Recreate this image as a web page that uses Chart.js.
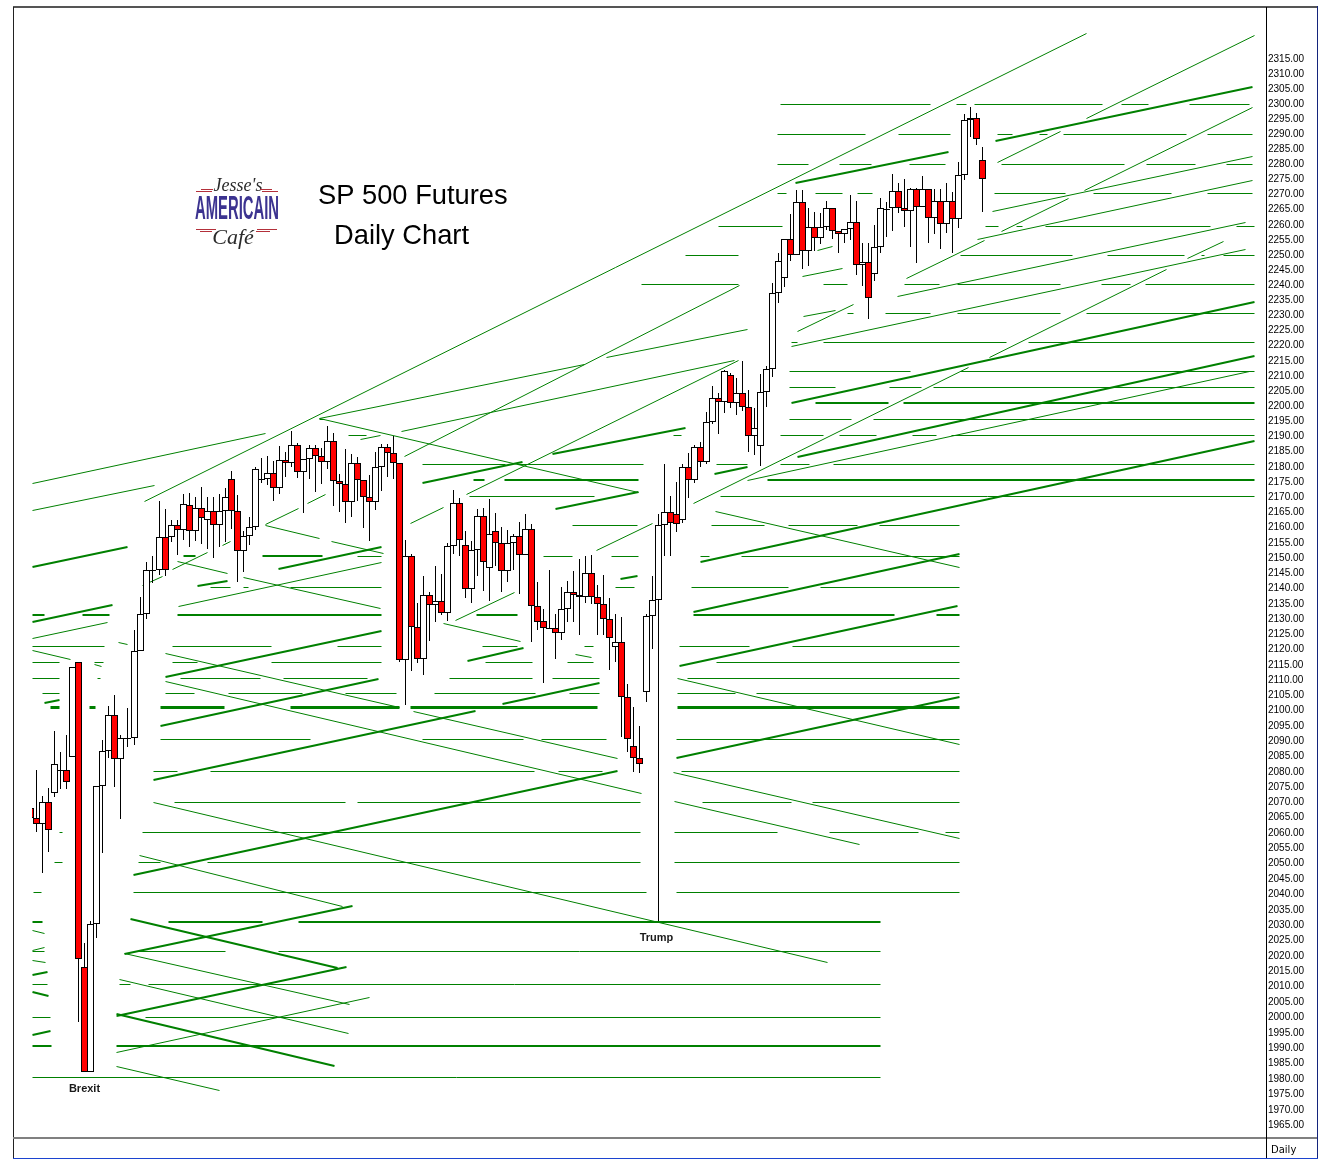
<!DOCTYPE html>
<html>
<head>
<meta charset="utf-8">
<title>SP 500 Futures Daily Chart</title>
<script src="https://cdn.jsdelivr.net/npm/chart.js@4/dist/chart.umd.js"></script>
<style>
  html, body { margin: 0; padding: 0; background: #fff; }
  canvas { display: block; }
</style>
</head>
<body>
<canvas id="chart" width="1329" height="1169"></canvas>
<script>
// daily candles, first session is cut off by the left edge of the plot
const opens = [
  2067.4,2064.2,2062.2,2069.4,2072.3,2079.5,2079.8,2084,2115.1,2015.7,
  1981.6,2029.7,2074.6,2086,2097.7,2083.4,2089.9,2090.2,2118.7,2130.9,
  2145,2145.3,2156.2,2156.2,2160.1,2158.5,2166.7,2158.2,2165.7,2161.8,
  2164.8,2160.1,2164.8,2175.3,2164.8,2151.6,2156.5,2159.5,2175,2175.3,
  2177.3,2172.3,2181.6,2180.6,2186.5,2177.6,2181.9,2185.5,2182.9,2180.9,
  2187.8,2174.6,2173.6,2167.7,2180.6,2175,2169.4,2167.7,2179.2,2185.8,
  2183.9,2180.6,2115.8,2149.9,2126.6,2116.1,2137.1,2133.8,2135.2,2131.2,
  2153.2,2167.4,2153.6,2139.1,2151.9,2163.1,2146,2158.2,2154.2,2145,
  2154.2,2156.5,2150.3,2158.8,2133.5,2128.6,2126,2126.3,2124.6,2132.5,
  2138.1,2137.1,2136.5,2144.3,2136.5,2134.2,2129.2,2120,2121.7,2103.6,
  2087.6,2083.7,2105.3,2130.2,2135.5,2160.1,2164.4,2163.8,2161.8,2179.2,
  2175,2185.8,2180.9,2194.1,2202,2200.7,2209.6,2200.3,2203.6,2199,
  2189.5,2186.2,2204,2211.6,2236.7,2241.6,2254.5,2249.2,2266.8,2250.6,
  2258.5,2254.9,2258.5,2264.8,2257.2,2256.2,2257.9,2260.2,2245.9,2246.9,
  2243,2251.9,2264.2,2264.8,2270.5,2264.8,2263.8,2271.1,2265.2,2271.1,
  2261.5,2267.2,2259.5,2267.2,2261.2,2275.8,2294,2294.7,2280.8
];
const highs = [
  2067.4,2079.8,2071.3,2073.9,2092.5,2085.7,2091.2,2113.5,2115.1,2023.5,
  2030.6,2074.6,2089.6,2100.7,2104.3,2091.2,2100,2125.6,2136.5,2148,
  2149.9,2168.1,2165.4,2161.8,2161.8,2170.4,2170.7,2169.4,2172.7,2169.4,
  2169.4,2170.4,2172.3,2177.9,2170,2158.2,2162.8,2179.2,2182.2,2182.9,
  2181.2,2186.2,2184.2,2191.1,2187.2,2181.9,2186.5,2186.5,2185.5,2192.8,
  2190.4,2176.9,2185.2,2183.5,2182.5,2175,2176.6,2184.2,2186.8,2186.8,
  2189.5,2180.6,2155.2,2150.6,2134.5,2143.4,2138.1,2146.6,2144,2154.2,
  2171.7,2169,2158.2,2154.9,2165.4,2165.7,2168.7,2164.1,2159.5,2158.5,
  2157.2,2161.1,2163.8,2160.5,2141.4,2132.5,2145.3,2130.9,2139.8,2141.7,
  2145,2148.9,2149.9,2150.3,2140.4,2143.7,2136.1,2130.9,2129.9,2107.9,
  2100.3,2094.1,2130.9,2143.4,2163.8,2180.2,2169.7,2174.3,2180.2,2183.9,
  2186.5,2187.5,2197.4,2205.9,2203.6,2211.2,2210.2,2208.6,2214.2,2204.6,
  2198.7,2209.9,2212.6,2240,2249.9,2254.5,2262.8,2270.8,2270.8,2264.8,
  2263.5,2263.2,2267.2,2264.8,2257.2,2257.9,2269.1,2267.2,2253.2,2253.2,
  2259.2,2268.1,2266.8,2276.1,2273.1,2274.5,2271.5,2271.5,2275.4,2271.1,
  2271.1,2271.1,2273.1,2270.1,2280.1,2296,2298.3,2296.3,2285.1
];
const lows = [
  2064.2,2059.6,2046.3,2053.1,2071,2073.6,2073.6,2084,1997.8,1981.6,
  1981.6,2025.1,2052.8,2083.7,2074.3,2063.8,2087.3,2087.9,2118.7,2129.2,
  2141.1,2143.7,2143.4,2154.5,2150.3,2155.2,2152.9,2154.9,2153.9,2152.2,
  2149.3,2152.9,2154.5,2158.8,2141.4,2144.7,2153.6,2158.5,2174,2173.3,
  2168.1,2170.4,2176,2179.2,2175.6,2164.1,2175.3,2171,2173.6,2178.6,
  2166.4,2164.4,2160.8,2162.8,2168.1,2159.2,2154.9,2165.1,2171.3,2176,
  2175.3,2115.1,2101,2112.2,2114.8,2110.8,2122,2128.3,2130.6,2128.6,
  2150.6,2149.9,2136.1,2134.5,2143.4,2138.4,2135.2,2146.6,2138.1,2141.4,
  2145.3,2137.4,2150.3,2121.7,2125.6,2108.2,2126,2116.1,2122.3,2128.3,
  2128.3,2124,2134.5,2134.2,2124,2124,2112.5,2115.1,2090.6,2085.7,
  2079.2,2078.8,2102,2119.4,2030.6,2149.9,2149.9,2157.8,2160.8,2169,
  2174,2179.2,2180.2,2193.4,2190.1,2197.1,2198.7,2196.4,2197.7,2184.2,
  2183.2,2179.6,2199,2208.9,2233.4,2238.7,2247.3,2249.2,2244.6,2245.6,
  2250.6,2252.9,2257.5,2254.5,2249.9,2253.2,2254.2,2242.6,2239,2228.1,
  2240.6,2249.9,2255.2,2257.2,2263.2,2258.5,2251.9,2246.6,2265.2,2253.2,
  2256.2,2251.2,2256.5,2249.9,2258.2,2274.1,2288.4,2285.7,2263.5
];
const closes = [
  2064.2,2062.2,2069.4,2060.3,2081.8,2079.8,2075.9,2113.5,2018.3,1981.6,
  2029.7,2074.6,2086,2097.7,2083.4,2090.2,2090.2,2118.7,2130.9,2145.3,
  2145.3,2156.2,2145.3,2160.1,2158.5,2167.1,2158.2,2165.7,2162.5,2164.8,
  2160.1,2164.8,2169.4,2164.8,2151.6,2156.5,2159.5,2178.6,2175.3,2177.3,
  2172.3,2181.6,2180.6,2186.5,2177.6,2181.9,2185.5,2182.9,2180.9,2187.8,
  2174.6,2173.6,2167.7,2180.6,2175,2169.4,2167.7,2179.2,2185.8,2183.9,
  2180.6,2115.8,2149.9,2126.6,2116.1,2137.1,2133.8,2135.2,2131.2,2153.2,
  2167.4,2155.2,2139.1,2151.9,2163.1,2148,2157.2,2154.2,2145,2154.2,
  2156.5,2150.3,2158.8,2133.5,2128.3,2126.3,2126.3,2124.6,2132.5,2138.1,
  2137.1,2136.5,2144.3,2136.5,2134.2,2129.2,2123,2121.7,2103.6,2089.9,
  2083.7,2081.8,2130.2,2135.5,2160.1,2164.4,2160.8,2160.5,2179.2,2175,
  2185.8,2180.9,2194.1,2202,2200.7,2210.9,2200.3,2203.6,2199,2189.5,
  2192.1,2204,2211.6,2236.7,2247.3,2254.5,2249.2,2266.8,2250.6,2258.5,
  2254.9,2258.5,2264.8,2257.2,2256.2,2257.9,2260.2,2245.9,2246.9,2235,
  2251.9,2264.8,2264.5,2270.5,2264.8,2263.8,2271.1,2265.2,2271.1,2261.5,
  2267.2,2259.5,2267.2,2261.2,2275.8,2294,2294.7,2287.7,2274.5
];
// sessions where the original bar spacing opens up by one pixel
const wideSessions = [15, 16, 20, 101];

// horizontal levels: one price, and pairs of from/to sessions where it shows
const thinLevelPrices = [
  2299.3,2289.4,2279.4,2269.8,2258.9,2249.2,2239.7,2230.1,2220.5,2210.9,
  2205.6,2195.1,2189.8,2180.2,2169.7,2160.1,2149.9,2139.7,2120.4,2115.1,
  2109.9,2104.9,2089.9,2079.5,2069.4,2059.6,2049.8,2040.1,2020.9,2010.2,
  1999.4,1980
];
const thinLevelSpans = [
  [123.6,148.5,152.7,154.5,155.8,177.1,180.1,184.6,191.4,201.5],
  [123.1,137.6,143.1,151.7,159.5,162,166.5,167.8,170.5,190.9,194.4,202],
  [123.1,128.1,133.3,138.6,144.9,151,160.3,180.6,184.4,192.4,197.7,202],
  [123.1,124.6,129.3,133.8,136.3,138.8,159,170.9,175.6,188.4,194.4,202],
  [113.2,123.8,157.5,159.8,162.8,163.7,167.6,194.9,199.2,202.2],
  [107.7,116.5,153.5,172,177.9,190.7,193.4,194,197.2,202.2],
  [100.4,116.5,130.7,134.7,144.2,149.9,152.9,170,176.8,181.6,184.2,202.2],
  [134.7,135.7,140.9,148.5,152.9,170,174.4,202.2],
  [125.4,126.4,130.6,161,164.7,202.2],
  [125.1,145.2,153.4,202.2],
  [125.1,132.6,141.6,146.9,149,202.2],
  [46.9,47.7,125.1,135.4,139,202.2],
  [51.8,54.8,105.8,107,123.6,130.7,133.3,139.4,145.4,149.4,152,202.2],
  [64.1,77.8,79.9,100.8,112.9,118.1,123.6,128.4,132.4,202.2],
  [71.9,92.6,113.5,202.2],
  [89,99.7,112,120.8,124.8,136.4,139.9,153.2],
  [53.2,57.3,84.1,88.9,95.4,100,110.2,111.8,117,153.2],
  [28.9,32.1,34.4,35.1,42.2,57.3,96.2,99.2,108.8,124.8,130.1,153.2],
  [-0.8,11.3,22.6,39,49.9,57.3,74.1,79.9,90.9,92.4,106.7,118.4,125.6,153.2],
  [-0.8,3.8,9.5,11,22.6,26.6,38.9,57.3,74.6,82.4,88.1,92.4,112.9,153.2],
  [-0.8,3.8,10.1,10.5,23.9,37.2,41,55,68.6,82.4,85.7,93.5,108,153.2],
  [1,3.8,21.3,26.1,31.9,44.2,51.3,59.8,66.1,82.9,88.4,93.4,106.5,116.1,119.5,153.2],
  [20.6,45.4,64,80.9,83.9,94.7,106.2,153.2],
  [19.3,23.4,28.8,82.7,86.7,93.9,107,153.2],
  [22.9,51.2,53.3,100.2,110.6,125.3,128.9,153.2],
  [3.7,4.3,17.6,100.2,106,123.1,131.7,146.4,151,153.2],
  [3,4.3,16.8,20.5,28.4,100.2,106,153.2],
  [-0.5,0.7,16.1,101.2,106.2,153.2],
  [-0.8,1.3,16.3,31.3,40.1,140.2],
  [-0.8,1.8,13.8,15.6,18.6,140.2],
  [-0.8,2.2,18.1,140.2],
  [-0.8,140.2]
];
const thickLevelPrices = [2200.3,2175,2149.9,2130.6,2030.3,1990];
const thickLevelSpans = [
  [129.3,141.4,144,202.2],
  [72.6,74.4,77.6,99.9,121.3,202.2],
  [24.3,26.3,37.4,47.5],
  [-0.8,1.2,7.5,12.1,23.4,57.3,73.1,79.9,109,142.4,149.4,153.2],
  [-0.8,1,21.8,37.4,43.4,140.2],
  [-0.8,2.5,13.3,140.2]
];
const heavyLevelPrices = [2100.3];
const heavyLevelSpans = [[2.2,3.8,8.8,9.8,20.6,31.1,42.2,60.3,62.1,93.2,106.5,153.2]];

// sloped lines: session, price, session, price
const thickTrends = [
  [159.3,2287.1,202,2305],[126.1,2273.1,151.4,2283.4],[125.4,2200.3,202.2,2233.7],
  [126.3,2182.5,202.2,2215.9],[110.2,2148,202.2,2187.8],[109,2131.5,153.2,2150.6],
  [106.7,2113.8,152.9,2133.5],[106.2,2083.7,153.2,2103.6],[85.7,2183.5,107.7,2192.1],
  [112.5,2176.9,118.1,2179.2],[86.2,2165.4,99.9,2171],[97,2142.4,99.7,2143.4],
  [71.5,2115.4,80.8,2119.7],[77.4,2101.3,93.5,2108.2],[19.3,2076.5,72.9,2099.3],
  [20.6,2094.1,56.7,2109.5],[21.3,2110.2,57.3,2125.3],[40.1,2145.7,57.3,2152.9],
  [26.6,2140.1,31.6,2141.7],[16.1,2045.6,96.5,2079.5],[14.5,2019.9,52.5,2035.5],
  [13.3,1999.8,51.5,2015.7],[15.5,2031.3,50,2015.4],[13.3,2000.4,49.5,1983.5],
  [-0.8,2146.3,15,2152.9],[-0.8,2128.3,12.5,2133.8],[1.2,2101.6,3.8,2102.6],
  [-0.8,2013.1,1.7,2014.1],[-0.8,2007.5,1.9,2006.2],[-0.8,1993.6,2.3,1994.9],
  [64.1,2174,80.6,2180.9]
];
const thinTrends = [
  [17.8,2168.1,174.4,2322.9],[174.4,2294.7,202.2,2322.2],[174.1,2270.8,202,2298.3],
  [159.6,2280.1,170,2290.4],[160.3,2257.2,171.4,2268.1],[191.2,2248.2,197.2,2253.9],
  [158.2,2215.5,187.7,2244.6],[109,2167.4,154.7,2212.2],[69.6,2128.9,79.3,2138.1],
  [93,2151.9,102.3,2160.8],[158.8,2263.8,202,2282.1],[156.2,2254.5,202,2274.1],
  [142.9,2235.7,200.7,2260.2],[125.4,2219.2,200.7,2251.2],[144.5,2241.6,157.4,2254.2],
  [126.3,2224.1,135.6,2233],[127.4,2229.1,132.6,2231],[127.1,2242.3,133.9,2244.9],
  [129.6,2250.9,132.2,2252.2],[118.1,2175,201.5,2210.9],[62,2160.8,67.5,2166.1],
  [71.3,2170.4,116.5,2214.5],[17.6,2140.4,20.9,2143.4],[22.6,2145.7,28.4,2151.3],
  [30.9,2153.6,32.2,2154.9],[37.9,2160.5,43.4,2165.7],[45,2167.4,48,2170.4],
  [61,2182.9,116.8,2239.3],[-0.8,2174,37.9,2190.4],[-0.8,2165.1,19.6,2173.3],
  [-0.8,2123,11.8,2128.3],[-0.8,2119,5.5,2116.1],[13.5,2121.7,15,2121],
  [9.5,2114.5,10.8,2113.8],[-0.8,2027.7,1.2,2026.8],[-0.8,2021.2,1.3,2022.2],
  [-0.8,2018,1.5,2017.3],[23.4,2148.3,31.6,2144.3],[37.9,2160.1,47,2155.9],
  [48.9,2154.9,57.5,2150.9],[34.4,2143,57,2132.9],[67.6,2128,80.4,2122],
  [89.5,2117.7,92.2,2116.8],[21.3,2118.1,60.3,2100.3],[21.3,2108.9,100.4,2072.3],
  [62.5,2099,96.4,2083.7],[19.3,2069.4,131.4,2017.3],[17.1,2052.1,50.8,2035.5],
  [14.5,2020.3,52,2003.6],[13.8,2011.8,51.8,1994.2],[13.3,1983.5,30.4,1975.8],
  [13.3,1988.1,55.2,2005.9],[47,2195.3,99.9,2171],[53.7,2188.4,57,2189.8],
  [60.6,2191.1,115.9,2214.5],[94.7,2215.5,118.1,2224.8],[47,2195.3,91,2213.2],
  [23.6,2133.5,57.3,2148],[112.8,2164.8,153.2,2146.3],[106.5,2109.9,153.2,2088.3],
  [105.8,2079.2,153.2,2057.7],[106,2069.7,136.7,2055.7]
];

const tickPrices = [
  2315,2310,2305,2300,2295,2290,2285,2280,2275,2270,2265,2260,2255,2250,2245,2240,2235,2230,
  2225,2220,2215,2210,2205,2200,2195,2190,2185,2180,2175,2170,2165,2160,2155,2150,2145,2140,
  2135,2130,2125,2120,2115,2110,2105,2100,2095,2090,2085,2080,2075,2070,2065,2060,2055,2050,
  2045,2040,2035,2030,2025,2020,2015,2010,2005,2000,1995,1990,1985,1980,1975,1970,1965
];

const noteLabels = ['Brexit', 'Trump'];
const noteSessions = [7.9, 103];
const notePrices = [1976.1, 2025.1];

const GREEN = '#008000';
// the price axis of the original is very slightly compressed towards the top
const AXIS_BEND = 0.0148;
const BAR_PITCH = 6.02;

// linear scale that lands on whole pixels, the original has no antialiasing
class SnapScale extends Chart.LinearScale {
  static id = 'snap';
  static defaults = Chart.LinearScale.defaults;

  getPixelForValue(value) {
    const f = (value - this.min) / (this.max - this.min);
    if (this.isHorizontal()) {
      return Math.floor(this.left + f * this.width) + 0.5;
    }
    const d = 1 - f;
    const px = this.top + this.height * (d - AXIS_BEND * d * (1 - d));
    return Math.round(px) + (this.options.nudge || 0);
  }

  // labels sit a little under their level in the original
  getPixelForTick(index) {
    return super.getPixelForTick(index) + 2;
  }
}
Chart.register(SnapScale);

// bar i is on a 6 px grid, plus one px for every wide session so far
function sessionX(i) {
  const extra = wideSessions.filter(s => s <= i).length;
  return (6 * i + extra - 0.2) / BAR_PITCH;
}

// break between segments is a point with no y
function levelPoints(prices, spans) {
  const pts = [];
  prices.forEach((price, i) => {
    for (let k = 0; k < spans[i].length; k += 2) {
      pts.push({x: spans[i][k], y: price}, {x: spans[i][k + 1], y: price}, {x: spans[i][k + 1], y: null});
    }
  });
  return pts;
}

function trendPoints(trends) {
  const pts = [];
  trends.forEach(t => {
    pts.push({x: t[0], y: t[1]}, {x: t[2], y: t[3]}, {x: t[2], y: null});
  });
  return pts;
}

function lineSet(points, width, axis) {
  return {
    type: 'line',
    data: points,
    yAxisID: axis,
    borderColor: GREEN,
    borderWidth: width,
    pointRadius: 0,
    tension: 0,
    fill: false,
    spanGaps: false,
    order: 3
  };
}

const leftCut = {left: -19, top: 0, right: 0, bottom: 0};

const wicks = {
  data: highs.map((h, i) => ({x: sessionX(i - 1), y: [lows[i], h]})),
  backgroundColor: '#000',
  borderWidth: 0,
  barThickness: 1,
  grouped: false,
  inflateAmount: 0,
  clip: leftCut,
  order: 2
};

const bodies = {
  data: opens.map((o, i) => ({x: sessionX(i - 1), y: [o, closes[i]]})),
  backgroundColor: opens.map((o, i) => closes[i] < o ? '#ff0000' : '#ffffff'),
  borderColor: '#000',
  borderWidth: 1,
  borderSkipped: false,
  barThickness: 7,
  minBarLength: 1,
  grouped: false,
  inflateAmount: 0,
  clip: leftCut,
  order: 1
};

// frame, title, logo and the two notes
const decorations = {
  id: 'decorations',
  afterDraw(chart) {
    const ctx = chart.ctx;
    ctx.save();
    ctx.fillStyle = '#555';
    ctx.fillRect(13, 6, 1304, 2);
    ctx.fillStyle = '#222';
    ctx.fillRect(13, 7, 1, 1152);
    ctx.fillStyle = '#808080';
    ctx.fillRect(13, 1137, 1304, 2);
    ctx.fillStyle = '#000';
    ctx.fillRect(1266, 7, 1, 1152);
    ctx.fillStyle = '#14247c';
    ctx.fillRect(1317, 6, 1, 1153);
    ctx.fillStyle = '#1c44d0';
    ctx.fillRect(13, 1158, 1305, 1);

    ctx.textBaseline = 'alphabetic';
    ctx.textAlign = 'left';
    ctx.fillStyle = '#000';
    ctx.font = '27.3px "Liberation Sans"';
    ctx.fillText('SP 500 Futures', 318, 204);
    ctx.fillText('Daily Chart', 334, 244);
    ctx.font = '10px "DejaVu Sans"';
    ctx.fillText('Daily', 1271, 1153);

    // notes sit under the candle they belong to
    ctx.textAlign = 'center';
    ctx.textBaseline = 'middle';
    ctx.font = 'bold 11px "Liberation Sans"';
    ctx.fillStyle = '#1a1a1a';
    noteLabels.forEach((label, i) => {
      ctx.fillText(label, chart.scales.x.getPixelForValue(noteSessions[i]), chart.scales.y.getPixelForValue(notePrices[i]));
    });

    // logo
    ctx.fillStyle = '#2b2b2b';
    ctx.font = 'italic 18px "Liberation Serif"';
    ctx.fillText("Jesse's", 238, 186);
    ctx.font = 'italic 22px "Liberation Serif"';
    ctx.fillText('Café', 233, 238);
    ctx.fillStyle = '#3c3390';
    ctx.font = 'bold 33px "Liberation Sans"';
    ctx.fillText('AMERICAIN', 237, 210, 84);
    ctx.fillStyle = '#b3303a';
    ctx.fillRect(201, 189, 12, 1);
    ctx.fillRect(196, 191, 16, 1);
    ctx.fillRect(260, 189, 12, 1);
    ctx.fillRect(262, 191, 16, 1);
    ctx.fillRect(196, 229, 20, 1);
    ctx.fillRect(200, 231, 12, 1);
    ctx.fillRect(257, 229, 20, 1);
    ctx.fillRect(256, 231, 14, 1);
    ctx.restore();
  }
};

new Chart(document.getElementById('chart').getContext('2d'), {
  type: 'bar',
  data: {
    datasets: [
      bodies,
      wicks,
      lineSet(levelPoints(thinLevelPrices, thinLevelSpans), 1, 'yLines'),
      lineSet(levelPoints(thickLevelPrices, thickLevelSpans), 2, 'y'),
      lineSet(levelPoints(heavyLevelPrices, heavyLevelSpans), 3, 'yLines'),
      lineSet(trendPoints(thinTrends), 1, 'yLines'),
      lineSet(trendPoints(thickTrends), 2, 'y')
    ]
  },
  options: {
    responsive: false,
    animation: false,
    events: [],
    layout: {padding: {left: 13, right: 12, top: 8, bottom: 31}},
    plugins: {legend: {display: false}, tooltip: {enabled: false}},
    scales: {
      x: {
        type: 'snap',
        min: -3.97,
        max: 204.18,
        offset: false,
        display: false
      },
      y: {
        type: 'snap',
        position: 'right',
        min: 1960.2,
        max: 2331.3,
        grid: {display: false, drawTicks: false},
        border: {display: false},
        afterBuildTicks(axis) {
          axis.ticks = tickPrices.map(value => ({value}));
        },
        afterFit(axis) {
          axis.width = 51;
        },
        ticks: {
          autoSkip: false,
          padding: 2,
          color: '#000',
          font: {family: '"Liberation Sans"', size: 10},
          callback: v => v.toFixed(2)
        }
      },
      yLines: {
        type: 'snap',
        position: 'right',
        display: false,
        nudge: 0.5,
        min: 1960.2,
        max: 2331.3
      }
    }
  },
  plugins: [decorations]
});
</script>
</body>
</html>
